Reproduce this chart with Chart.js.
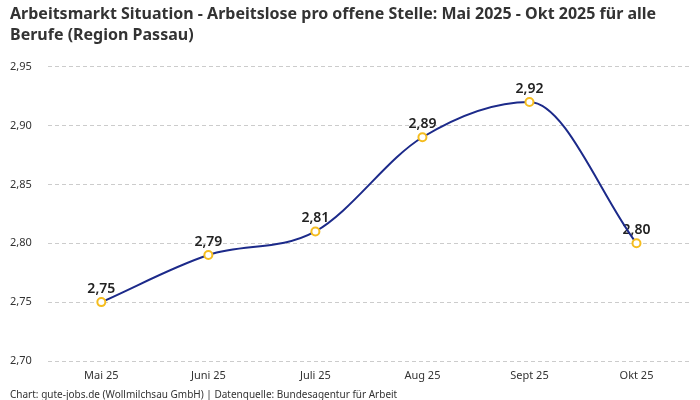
<!DOCTYPE html>
<html>
<head>
<meta charset="utf-8">
<script src="https://cdn.jsdelivr.net/npm/chart.js@4"></script>
<style>
  html, body { margin: 0; padding: 0; background: #fff; }
  #wrap { width: 700px; height: 400px; }
</style>
</head>
<body>
<div id="wrap"><canvas id="chart"></canvas></div>
<script>
// Arbeitslose pro offene Stelle, Region Passau
const months = ['Mai 25', 'Juni 25', 'Juli 25', 'Aug 25', 'Sept 25', 'Okt 25'];
const ratio = [2.75, 2.79, 2.81, 2.89, 2.92, 2.80];
const titleLines = [
  'Arbeitsmarkt Situation - Arbeitslose pro offene Stelle: Mai 2025 - Okt 2025 für alle',
  'Berufe (Region Passau)'
];
const footerText = 'Chart: gute-jobs.de (Wollmilchsau GmbH) | Datenquelle: Bundesagentur für Arbeit';

const fmt = v => v.toFixed(2).replace('.', ',');
const FONT = "'Noto Sans', Roboto, sans-serif";

// value labels above the points (drawn before the line, like the original)
const valueLabels = {
  id: 'valueLabels',
  beforeDatasetsDraw(chart) {
    const ctx = chart.ctx;
    const meta = chart.getDatasetMeta(0);
    ctx.save();
    ctx.font = `600 14px ${FONT}`;
    ctx.fillStyle = '#222';
    ctx.textAlign = 'center';
    ctx.textBaseline = 'bottom';
    meta.data.forEach((pt, i) => {
      ctx.fillText(fmt(ratio[i]), pt.x, pt.y - 6);
    });
    ctx.restore();
  }
};

new Chart(document.getElementById('chart'), {
  type: 'line',
  data: {
    labels: months,
    datasets: [{
      data: ratio,
      borderColor: '#1c2a8a',
      borderWidth: 2,
      cubicInterpolationMode: 'monotone',
      pointRadius: 4,
      pointBorderWidth: 2,
      pointBackgroundColor: '#fff',
      pointBorderColor: '#f5bd1f',
      fill: false
    }]
  },
  options: {
    responsive: true,
    maintainAspectRatio: false,
    animation: false,
    layout: { padding: { left: 10, right: 10, top: 4, bottom: 0 } },
    plugins: {
      legend: { display: false },
      tooltip: { enabled: false },
      title: {
        display: true,
        text: titleLines,
        align: 'start',
        color: '#333',
        font: { family: FONT, size: 16, weight: 'bold', lineHeight: 1.3 },
        padding: { top: 0, bottom: 21 }
      },
      subtitle: {
        display: true,
        position: 'bottom',
        text: footerText,
        align: 'start',
        color: '#333',
        font: { family: FONT, size: 10, lineHeight: 1.0 },
        padding: { top: 0, bottom: 0 }
      }
    },
    scales: {
      x: {
        offset: true,
        grid: { display: false, drawTicks: false },
        border: { display: false },
        ticks: { color: '#333', font: { family: FONT, size: 11, lineHeight: 1.0 }, padding: 9 }
      },
      y: {
        min: 2.7,
        max: 2.95,
        grid: { color: '#cccccc', drawTicks: false },
        border: { display: false, dash: [4, 3] },
        ticks: {
          stepSize: 0.05,
          color: '#333',
          font: { family: FONT, size: 11 },
          padding: 8,
          crossAlign: 'far',
          callback: v => fmt(v)
        }
      }
    }
  },
  plugins: [valueLabels]
});
</script>
</body>
</html>
